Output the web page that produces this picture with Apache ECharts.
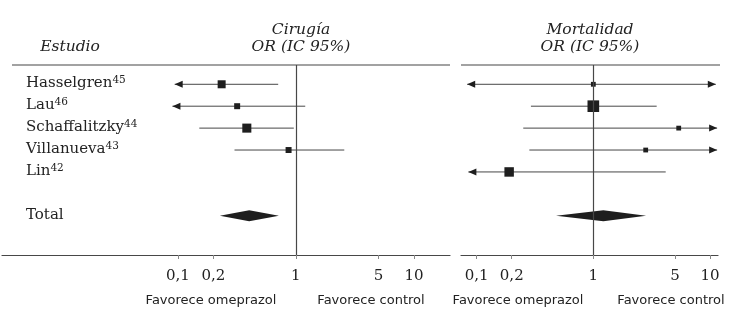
<!DOCTYPE html>
<html>
<head>
<meta charset="utf-8">
<script src="https://cdn.jsdelivr.net/npm/echarts@6/dist/echarts.min.js"></script>
<style>
html, body { margin: 0; padding: 0; background: #fff; }
#chart { width: 730px; height: 312px; }
</style>
</head>
<body>
<div id="chart"></div>
<script>
// filas del forest plot
var studies = ['Hasselgren', 'Lau', 'Schaffalitzky', 'Villanueva', 'Lin', '', 'Total'];
var refs = ['45', '46', '44', '43', '42', '', ''];

// eje OR (escala log)
var tickValues = [0.1, 0.2, 1, 5, 10];
var tickLabels = ['0,1', '0,2', '1', '5', '10'];

// Cirugía: OR, IC (extremo dibujado), flechas, peso
var cirOR = [0.235, 0.318, 0.384, 0.867, null];
var cirLow = [0.094, 0.090, 0.152, 0.302, null];
var cirHigh = [0.708, 1.2, 0.96, 2.57, null];
var cirArrow = ['L', 'L', '', '', ''];
var cirWeight = [25, 14, 32, 14, null];
var cirTotal = [0.227, 0.402, 0.718];

// Mortalidad
var morOR = [1.0, 1.0, 5.39, 2.81, 0.19];
var morLow = [0.083, 0.292, 0.251, 0.283, 0.085];
var morHigh = [11.2, 3.49, 11.5, 11.5, 4.17];
var morArrow = ['LR', '', 'R', 'R', 'L'];
var morWeight = [9, 53, 9, 9, 35];
var morTotal = [0.479, 1.22, 2.83];

var lineColor = '#474747';
var markColor = '#1e1e1e';
var textColor = '#222';
var serif = '"DejaVu Serif", serif';
var sans = '"DejaVu Sans", sans-serif';

var chart = echarts.init(document.getElementById('chart'));

function lg(v) { return Math.log10(v); }

function tickLabel(value) {
    for (var i = 0; i < tickValues.length; i++) {
        if (Math.abs(lg(tickValues[i]) - value) < 1e-6) return tickLabels[i];
    }
    return '';
}

function rowLabel(value) {
    var name = studies[value];
    if (!name) return '';
    return '{n|' + name + '}' + (refs[value] ? '{s|' + refs[value] + '}' : '');
}

function xAxisFor(idx, minOR, maxOR) {
    var ticks = tickValues.map(lg);
    return {
        type: 'value', gridIndex: idx,
        min: lg(minOR), max: lg(maxOR),
        axisLine: { show: true, onZero: false, lineStyle: { color: lineColor, width: 1.2 } },
        axisTick: { show: true, length: 4, customValues: ticks, lineStyle: { color: '#888' } },
        axisLabel: {
            customValues: ticks, formatter: tickLabel, margin: 14,
            fontFamily: serif, fontSize: 15, color: textColor
        },
        splitLine: { show: false }
    };
}

function yAxisFor(idx, showLabels) {
    return {
        type: 'value', gridIndex: idx, inverse: true,
        min: -0.88, max: 7.79,
        axisLine: { show: false, onZero: false }, axisTick: { show: false }, splitLine: { show: false },
        axisLabel: {
            show: showLabels, inside: true, margin: 24,
            customValues: [0, 1, 2, 3, 4, 6], formatter: rowLabel,
            rich: {
                n: { fontFamily: serif, fontSize: 15, color: textColor, padding: [0, 0, 2, 0] },
                s: { fontFamily: serif, fontSize: 10.5, color: textColor, padding: [0, 0, 8, 0] }
            }
        }
    };
}

function panelSeries(idx, ors, lows, highs, arrows, weights, total) {
    var ci = [], sq = [];
    for (var i = 0; i < ors.length; i++) {
        if (ors[i] == null) continue;
        ci.push([lg(lows[i]), lg(highs[i]), i]);
        sq.push([lg(ors[i]), i, weights[i]]);
    }
    var totalRow = studies.indexOf('Total');
    return [
        {
            type: 'custom', xAxisIndex: idx, yAxisIndex: idx, data: ci,
            encode: { x: [0, 1], y: 2 },
            renderItem: function (params, api) {
                var row = api.value(2);
                var p1 = api.coord([api.value(0), row]);
                var p2 = api.coord([api.value(1), row]);
                var kids = [{
                    type: 'line',
                    shape: { x1: p1[0], y1: p1[1], x2: p2[0], y2: p2[1] },
                    style: { stroke: lineColor, lineWidth: 1 }
                }];
                var a = arrows[row];
                if (a.indexOf('L') >= 0) {
                    kids.push({ type: 'polygon', shape: { points: [[p1[0], p1[1]], [p1[0] + 8, p1[1] - 3.5], [p1[0] + 8, p1[1] + 3.5]] }, style: { fill: markColor } });
                }
                if (a.indexOf('R') >= 0) {
                    kids.push({ type: 'polygon', shape: { points: [[p2[0], p2[1]], [p2[0] - 8, p2[1] - 3.5], [p2[0] - 8, p2[1] + 3.5]] }, style: { fill: markColor } });
                }
                return { type: 'group', children: kids };
            },
            z: 2
        },
        {
            type: 'scatter', xAxisIndex: idx, yAxisIndex: idx, data: sq,
            symbol: 'rect',
            symbolSize: function (v) { return Math.sqrt(v[2]) * 1.6; },
            itemStyle: { color: markColor, opacity: 1 },
            z: 3,
            markLine: {
                silent: true, symbol: 'none', label: { show: false },
                lineStyle: { color: lineColor, width: 1.2, type: 'solid' },
                data: [{ xAxis: 0 }]
            }
        },
        {
            type: 'custom', xAxisIndex: idx, yAxisIndex: idx,
            data: [[lg(total[0]), lg(total[1]), lg(total[2]), totalRow]],
            encode: { x: [0, 2], y: 3 },
            renderItem: function (params, api) {
                var row = api.value(3);
                var a = api.coord([api.value(0), row]);
                var b = api.coord([api.value(1), row]);
                var c = api.coord([api.value(2), row]);
                return {
                    type: 'polygon',
                    shape: { points: [[a[0], a[1]], [b[0], b[1] - 5.5], [c[0], c[1]], [b[0], b[1] + 5.5]] },
                    style: { fill: markColor }
                };
            },
            z: 3
        }
    ];
}

function txt(x, y, text, font) {
    return {
        type: 'text', x: x, y: y,
        style: { text: text, font: font, fill: textColor, align: 'center', verticalAlign: 'middle' }
    };
}

var option = {
    animation: false,
    backgroundColor: '#fff',
    grid: [
        { left: 2, right: 280, top: 65, bottom: 57 },
        { left: 461, right: 12, top: 65, bottom: 57 }
    ],
    xAxis: [xAxisFor(0, 0.00324, 20.2), xAxisFor(1, 0.0735, 11.7)],
    yAxis: [yAxisFor(0, true), yAxisFor(1, false)],
    series: panelSeries(0, cirOR, cirLow, cirHigh, cirArrow, cirWeight, cirTotal)
        .concat(panelSeries(1, morOR, morLow, morHigh, morArrow, morWeight, morTotal)),
    graphic: [
        { type: 'line', shape: { x1: 12, y1: 65, x2: 450, y2: 65 }, style: { stroke: lineColor, lineWidth: 1.2 } },
        { type: 'line', shape: { x1: 461, y1: 65, x2: 720, y2: 65 }, style: { stroke: lineColor, lineWidth: 1.2 } },
        txt(70, 47, 'Estudio', 'italic 15.5px ' + serif),
        txt(301, 30, 'Cirugía', 'italic 15.5px ' + serif),
        txt(301, 47, 'OR (IC 95%)', 'italic 15.5px ' + serif),
        txt(590, 30, 'Mortalidad', 'italic 15.5px ' + serif),
        txt(590, 47, 'OR (IC 95%)', 'italic 15.5px ' + serif),
        txt(211, 301, 'Favorece omeprazol', '13px ' + sans),
        txt(371, 301, 'Favorece control', '13px ' + sans),
        txt(518, 301, 'Favorece omeprazol', '13px ' + sans),
        txt(671, 301, 'Favorece control', '13px ' + sans)
    ]
};

chart.setOption(option);
</script>
</body>
</html>
